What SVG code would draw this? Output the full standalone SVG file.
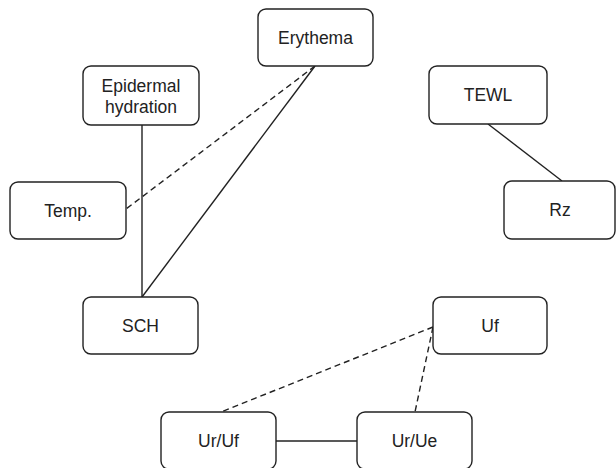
<svg xmlns="http://www.w3.org/2000/svg" width="616" height="468" viewBox="0 0 616 468">
  <style>
    .node rect { fill: #ffffff; stroke: #222222; stroke-width: 1.4; }
    .node text { font-family: "Liberation Sans", Arial, sans-serif; font-size: 17.5px; fill: #222222; text-anchor: middle; }
    .edge { stroke: #222222; stroke-width: 1.4; fill: none; }
    .dashed { stroke-dasharray: 6 4; }
  </style>
  <rect width="616" height="468" fill="#ffffff"/>
  <g id="connectors">
    <line class="edge" x1="142" y1="125" x2="142" y2="297"/>
    <line class="edge" x1="315" y1="66" x2="142" y2="297"/>
    <line class="edge dashed" x1="315" y1="66" x2="126" y2="209"/>
    <line class="edge" x1="488" y1="124" x2="562" y2="181"/>
    <line class="edge dashed" x1="433" y1="327" x2="221" y2="412"/>
    <line class="edge dashed" x1="433" y1="327" x2="415" y2="412"/>
    <line class="edge" x1="276" y1="441" x2="357" y2="441"/>
  </g>
  <g id="erythema" class="node">
    <rect x="258" y="9" width="115" height="57" rx="8"/>
    <text x="315.5" y="44">Erythema</text>
  </g>
  <g id="epidermal-hydration" class="node">
    <rect x="83" y="66" width="116" height="59" rx="8"/>
    <text x="141" y="92">Epidermal</text>
    <text x="141" y="113">hydration</text>
  </g>
  <g id="temp" class="node">
    <rect x="10" y="182" width="116" height="57" rx="8"/>
    <text x="68" y="217">Temp.</text>
  </g>
  <g id="tewl" class="node">
    <rect x="429" y="66" width="118" height="58" rx="8"/>
    <text x="488" y="101">TEWL</text>
  </g>
  <g id="rz" class="node">
    <rect x="504" y="181" width="111" height="58" rx="8"/>
    <text x="560" y="216">Rz</text>
  </g>
  <g id="sch" class="node">
    <rect x="83" y="297" width="115" height="57" rx="8"/>
    <text x="140.5" y="332">SCH</text>
  </g>
  <g id="uf" class="node">
    <rect x="433" y="297" width="114" height="57" rx="8"/>
    <text x="490" y="332">Uf</text>
  </g>
  <g id="ur-uf" class="node">
    <rect x="161" y="412" width="115" height="57" rx="8"/>
    <text x="218.5" y="447">Ur/Uf</text>
  </g>
  <g id="ur-ue" class="node">
    <rect x="357" y="412" width="115" height="57" rx="8"/>
    <text x="414.5" y="447">Ur/Ue</text>
  </g>
</svg>
